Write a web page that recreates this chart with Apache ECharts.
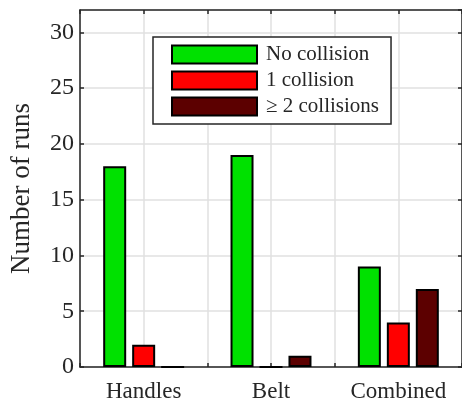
<!DOCTYPE html>
<html>
<head>
<meta charset="utf-8">
<script src="https://cdn.jsdelivr.net/npm/echarts@6/dist/echarts.min.js"></script>
<style>html,body{margin:0;padding:0;background:#fff}#c{width:462px;height:403px}</style>
</head>
<body>
<div id="c"></div>
<script>
const categories = ['Handles', 'Belt', 'Combined'];
const seriesNames = ['No collision', '1 collision', '\u2265 2 collisions'];
const noCollision = [18, 19, 9];
const oneCollision = [2, 0, 4];
const twoPlus = [0, 1, 7];
const yTicks = [0, 5, 10, 15, 20, 25, 30];

const FONT = 'Liberation Serif';
const AX = '#262626';
const colors = ['#00e100', '#ff0000', '#5c0000'];
const values = [noCollision, oneCollision, twoPlus];

const chart = echarts.init(document.getElementById('c'), null, {renderer: 'canvas'});
chart.setOption({
  animation: false,
  backgroundColor: '#fff',
  grid: {left: 80, top: 10, width: 384, height: 361.5, containLabel: false},
  legend: {
    orient: 'vertical', left: 153, top: 37,
    data: seriesNames,
    icon: 'rect', itemWidth: 85, itemHeight: 18, itemGap: 5,
    padding: [7, 12, 7, 18],
    borderColor: AX, borderWidth: 1.5, backgroundColor: '#fff',
    textStyle: {fontFamily: FONT, fontSize: 21, color: '#262626', lineHeight: 21, padding: [0, 0, 0, 4]}
  },
  xAxis: [
    {type: 'category', data: categories, position: 'bottom',
     axisLine: {show: true, lineStyle: {color: AX, width: 1.5}},
     axisTick: {show: false}, splitLine: {show: false},
     axisLabel: {fontFamily: FONT, fontSize: 23, color: '#262626', margin: 13}},
    {type: 'value', min: 0.5, max: 3.5, interval: 0.5, position: 'bottom',
     axisLine: {show: false}, axisLabel: {show: false},
     axisTick: {show: true, inside: true, length: 4, lineStyle: {color: AX, width: 1.5}},
     splitLine: {show: true, lineStyle: {color: '#e1e1e1', width: 1.5}}},
    {type: 'value', min: 0.5, max: 3.5, interval: 0.5, position: 'top',
     axisLine: {show: true, lineStyle: {color: AX, width: 1.5}}, axisLabel: {show: false},
     axisTick: {show: true, inside: true, length: 4, lineStyle: {color: AX, width: 1.5}},
     splitLine: {show: false}}
  ],
  yAxis: [
    {type: 'value', min: 0, max: 32, interval: 5, position: 'left',
     name: 'Number of runs', nameLocation: 'middle', nameGap: 45,
     nameTextStyle: {fontFamily: FONT, fontSize: 27, color: '#262626'},
     axisLine: {show: true, lineStyle: {color: AX, width: 1.5}},
     axisTick: {show: true, inside: true, length: 4, lineStyle: {color: AX, width: 1.5}},
     axisLabel: {fontFamily: FONT, fontSize: 24, color: '#262626', margin: 6, showMaxLabel: false,
       formatter: v => yTicks.includes(v) ? String(v) : ''},
     splitLine: {show: true, lineStyle: {color: '#e1e1e1', width: 1.5}}},
    {type: 'value', min: 0, max: 32, interval: 5, position: 'right',
     axisLine: {show: true, lineStyle: {color: AX, width: 1.5}},
     axisTick: {show: true, inside: true, length: 4, lineStyle: {color: AX, width: 1.5}},
     axisLabel: {show: false}, splitLine: {show: false}}
  ],
  series: seriesNames.map((n, i) => ({
    name: n, type: 'bar', xAxisIndex: 0, yAxisIndex: 0,
    data: values[i], barWidth: 23, barGap: '26%',
    itemStyle: {color: colors[i], borderColor: '#000', borderWidth: 2}
  }))
});
</script>
</body>
</html>
